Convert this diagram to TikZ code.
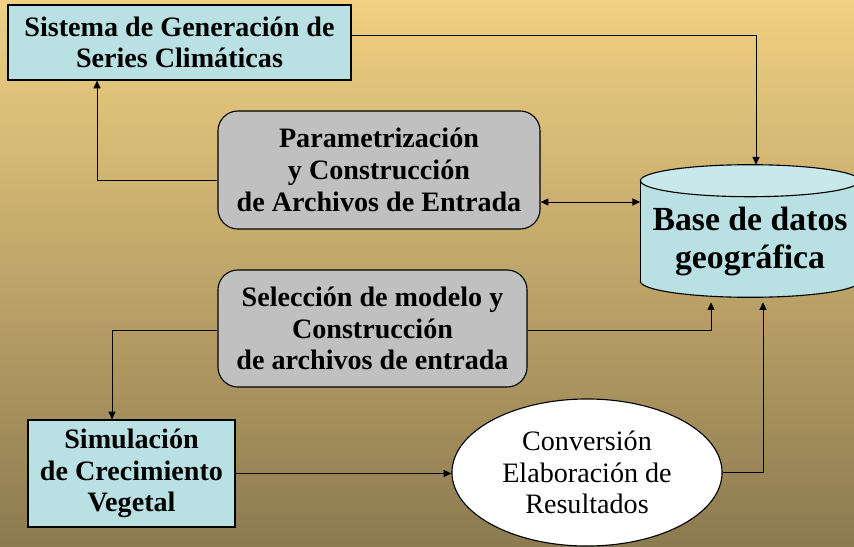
\documentclass[tikz,border=0pt]{standalone}
\usepackage{fontspec}
\setmainfont{Liberation Serif}
\usepackage{xcolor}
\usetikzlibrary{positioning,shapes.geometric,arrows.meta,calc,backgrounds}

\definecolor{fondoalto}{RGB}{240,208,130}
\definecolor{fondobajo}{RGB}{140,122,80}
\definecolor{celeste}{RGB}{185,225,228}
\definecolor{celesteclaro}{RGB}{200,232,235}
\definecolor{gris}{RGB}{192,192,192}

\tikzset{
  caja/.style={draw, rectangle, fill=celeste, line width=0.8pt, align=center, inner sep=0pt,
    font=\bfseries\fontsize{20}{22.5}\selectfont},
  paso/.style={caja, fill=gris, rounded corners=0.5cm},
  punta/.tip={Triangle[length=5.5pt,width=5pt]},
  flecha/.style={-punta, line width=0.7pt},
  tapa/.style={draw, line width=0.8pt},
}

\begin{document}
\begin{tikzpicture}[x=0.025cm, y=-0.025cm]
    \useasboundingbox (0,0) rectangle (854,546);

    \node[caja, minimum width=8.575cm, minimum height=1.875cm] (sistema) at (179.5,42.5)
      {Sistema de Generación de\\Series Climáticas};
    \node[paso, minimum width=8.05cm, minimum height=2.95cm] (param) at (379,170)
      {Parametrización\\y Construcción\\de Archivos de Entrada};
    \node[paso, minimum width=7.725cm, minimum height=2.925cm] (selec) at (372.5,328.5)
      {Selección de modelo y\\Construcción\\de archivos de entrada};
    \node[caja, minimum width=5.175cm, minimum height=2.675cm] (simul) at (131.5,473.5)
      {Simulación\\de Crecimiento\\Vegetal};
    \node[draw, ellipse, fill=white, line width=0.8pt, align=center, inner sep=0pt,
      minimum width=6.75cm, minimum height=3.675cm, font=\fontsize{20}{22.3}\selectfont] (conv) at (587,472.5)
      {Conversión\\Elaboración de\\Resultados};

    %base de datos
    \node[rectangle, align=center, inner sep=0pt, minimum width=5.475cm, minimum height=3.3cm,
      text height=2.2cm, text depth=0.35cm, font=\bfseries\fontsize{24}{27}\selectfont] (db) at (750,231)
      {Base de datos\\geográfica};

    \begin{scope}[on background layer]
      %fondo
      \shade[top color=fondoalto, bottom color=fondobajo] (0,0) rectangle (854,546);
      %cilindro
      \filldraw[tapa, fill=celeste] ($(db.south)+(0,-16)$) ellipse (2.7375cm and 0.4cm);
      \fill[celeste] ($(db.north west)+(0,16)$) rectangle ($(db.south east)+(0,-16)$);
      \draw[tapa] ($(db.north west)+(0,16)$) -- ($(db.south west)+(0,-16)$);
      \draw[tapa] ($(db.north east)+(0,16)$) -- ($(db.south east)+(0,-16)$);
      \filldraw[tapa, fill=celesteclaro] ($(db.north)+(0,16)$) ellipse (2.7375cm and 0.4cm);
    \end{scope}

    %flechas
    \draw[flecha] (sistema.east |- 0,35) -| (756,0 |- db.north);
    \draw[flecha] (param.west |- 0,180) -| (97,0 |- sistema.south);
    \draw[punta-punta, line width=0.7pt] (param.east |- 0,202) -- (db.west |- 0,202);
    \draw[flecha, shorten >=3.5pt] (selec.east |- 0,330) -| (711,0 |- db.south);
    \draw[flecha] (selec.west |- 0,330) -| (112,0 |- simul.north);
    \draw[flecha] (simul.east) -- (simul.east -| conv.west);
    \draw[flecha, shorten >=3.5pt] (conv.east) -| (763,0 |- db.south);
\end{tikzpicture}
\end{document}
